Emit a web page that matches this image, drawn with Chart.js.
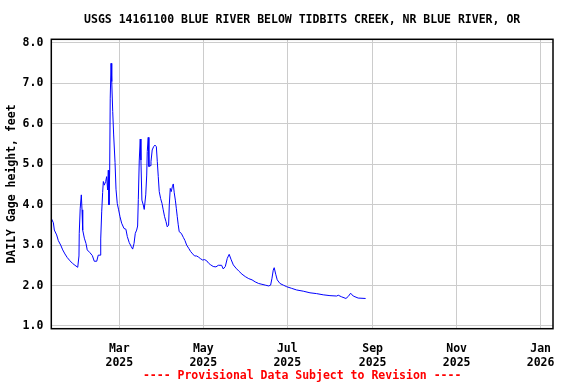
<!DOCTYPE html>
<html>
<head>
<meta charset="utf-8">
<script src="https://cdn.jsdelivr.net/npm/chart.js@4"></script>
<style>
  html, body { margin: 0; padding: 0; background: #fff; }
</style>
</head>
<body>
<canvas id="myChart" width="576" height="384"></canvas>
<script>
// days counted from 2025-01-01, gage height in feet
const stageDays = [
  9.6, 11.1, 11.8, 13.5, 14.7, 16.4, 17.9, 19.5, 21.2, 23.2, 24.9, 26.8, 28.8, 29.7, 29.9, 30.6, 31.4, 31.9, 32.4,
  33.6, 34.8, 35.7, 37.7, 39.4, 40.8, 42.6, 43.7, 45.0, 45.5, 46.2, 46.9, 47.4, 48.1, 49.1, 49.8, 50.5, 51.0, 51.5,
  52.0, 52.4, 53.0, 53.5, 54.2, 54.9, 55.9, 56.6, 57.5, 58.5, 59.5, 60.7, 62.4, 63.8, 64.8, 66.2, 67.7, 68.7, 69.7,
  70.6, 71.6, 72.3, 72.8, 73.5, 74.2, 74.7, 75.4, 76.4, 77.1, 78.2, 78.9, 79.3, 80.0, 80.5, 81.3, 82.0, 82.9, 83.9,
  84.9, 85.9, 86.6, 87.3, 88.0, 89.0, 90.0, 90.9, 91.9, 92.9, 93.8, 94.8, 95.3, 96.0, 96.7, 97.5, 98.2, 98.9, 99.7,
  100.4, 101.1, 101.8, 102.5, 104.0, 105.5, 106.7, 107.9, 109.4, 110.8, 112.3, 113.7, 115.2, 116.6, 118.1, 119.5,
  121.0, 122.5, 123.9, 125.4, 127.2, 129.2, 130.9, 133.3, 134.5, 136.0, 137.4, 138.8, 140.1, 141.8, 143.7, 145.7,
  148.1, 150.5, 153.0, 155.4, 157.7, 160.2, 162.6, 165.0, 167.5, 168.9, 169.9, 170.8, 171.5, 172.6, 173.7, 175.7,
  178.1, 180.6, 184.2, 187.8, 192.6, 197.5, 202.3, 207.1, 212.0, 216.9, 218.0, 220.5, 223.6, 225.3, 227.0, 228.9,
  232.5, 237.9
];
const stageFeet = [
  3.66, 3.55, 3.37, 3.25, 3.11, 3.00, 2.88, 2.78, 2.69, 2.61, 2.55, 2.50, 2.45, 2.73, 3.29, 3.91, 4.24, 3.87, 3.37,
  3.17, 3.04, 2.88, 2.81, 2.74, 2.60, 2.60, 2.75, 2.75, 3.15, 3.82, 4.30, 4.57, 4.48, 4.57, 4.69, 4.36, 4.85, 3.99,
  4.85, 6.63, 7.49, 7.04, 6.30, 5.72, 5.04, 4.38, 4.03, 3.87, 3.70, 3.54, 3.41, 3.39, 3.21, 3.06, 2.96, 2.90, 3.04,
  3.29, 3.37, 3.47, 4.13, 5.10, 5.62, 5.10, 4.11, 3.99, 3.88, 4.24, 4.73, 5.31, 5.66, 4.94, 4.96, 5.06, 5.35, 5.43,
  5.47, 5.43, 5.06, 4.69, 4.32, 4.15, 4.03, 3.87, 3.70, 3.58, 3.45, 3.49, 3.99, 4.40, 4.32, 4.44, 4.51, 4.29, 4.11,
  3.91, 3.70, 3.50, 3.33, 3.29, 3.19, 3.11, 3.00, 2.92, 2.84, 2.78, 2.73, 2.73, 2.70, 2.66, 2.63,
  2.64, 2.61, 2.55, 2.51, 2.47, 2.46, 2.50, 2.50, 2.41, 2.47, 2.67, 2.77, 2.65, 2.51, 2.43, 2.36,
  2.28, 2.22, 2.17, 2.14, 2.09, 2.05, 2.03, 2.01, 1.99, 2.01, 2.18, 2.38, 2.44, 2.28, 2.14, 2.05,
  2.01, 1.97, 1.93, 1.89, 1.86, 1.82, 1.80, 1.77, 1.75, 1.74, 1.76, 1.72, 1.68, 1.73, 1.81, 1.74,
  1.69, 1.68
];

const xTickDays = [59, 120, 181, 243, 304, 365];
const xTickMonths = ['Mar', 'May', 'Jul', 'Sep', 'Nov', 'Jan'];
const xTickYears = ['2025', '2025', '2025', '2025', '2025', '2026'];
const yTicks = [1, 2, 3, 4, 5, 6, 7, 8];

const monoFont = { family: '"DejaVu Sans Mono", monospace', size: 11.5, weight: 'bold', lineHeight: 1.2 };

// black frame round the plot area
const plotFrame = {
  id: 'plotFrame',
  afterDatasetsDraw(chart) {
    const { ctx, chartArea: a } = chart;
    ctx.save();
    ctx.strokeStyle = '#000';
    ctx.lineWidth = 1.5;
    ctx.strokeRect(a.left, a.top, a.right - a.left, a.bottom - a.top);
    ctx.restore();
  }
};

new Chart(document.getElementById('myChart'), {
  type: 'line',
  data: {
    datasets: [{
      data: stageDays.map((d, i) => ({ x: d, y: stageFeet[i] })),
      borderColor: '#0000ff',
      borderWidth: 1,
      pointRadius: 0,
      tension: 0,
      fill: false
    }]
  },
  options: {
    responsive: false,
    animation: false,
    devicePixelRatio: 1,
    layout: { padding: { left: 0, right: 23, top: 0, bottom: 0 } },
    plugins: {
      legend: { display: false },
      tooltip: { enabled: false },
      title: {
        display: true,
        fullSize: false,
        text: 'USGS 14161100 BLUE RIVER BELOW TIDBITS CREEK, NR BLUE RIVER, OR',
        color: '#000',
        font: monoFont,
        padding: { top: 13, bottom: 12.5 }
      },
      subtitle: {
        display: true,
        fullSize: false,
        position: 'bottom',
        text: '---- Provisional Data Subject to Revision ----',
        color: '#ff0000',
        font: monoFont,
        padding: { top: 0, bottom: 1 }
      }
    },
    scales: {
      x: {
        type: 'linear',
        min: 9.6,
        max: 374,
        afterBuildTicks: (s) => { s.ticks = xTickDays.map(v => ({ value: v })); },
        afterFit: (s) => { s.height = 40.5; },
        grid: { color: '#cccccc', lineWidth: 1, drawTicks: false },
        border: { display: false },
        ticks: {
          autoSkip: false,
          maxRotation: 0,
          padding: 13,
          color: '#000',
          font: { ...monoFont, lineHeight: 1.25 },
          callback: (v, i) => [xTickMonths[i], xTickYears[i]]
        }
      },
      y: {
        min: 0.933,
        max: 8.084,
        afterBuildTicks: (s) => { s.ticks = yTicks.map(v => ({ value: v })); },
        afterFit: (s) => { s.width = 51.3; },
        grid: { color: '#cccccc', lineWidth: 1, drawTicks: false },
        border: { display: false },
        ticks: {
          padding: 8,
          color: '#000',
          font: monoFont,
          callback: (v) => Number(v).toFixed(1)
        },
        title: {
          display: true,
          text: 'DAILY Gage height, feet',
          color: '#000',
          font: monoFont,
          padding: { top: 5, bottom: 0 }
        }
      }
    }
  },
  plugins: [plotFrame]
});
</script>
</body>
</html>
